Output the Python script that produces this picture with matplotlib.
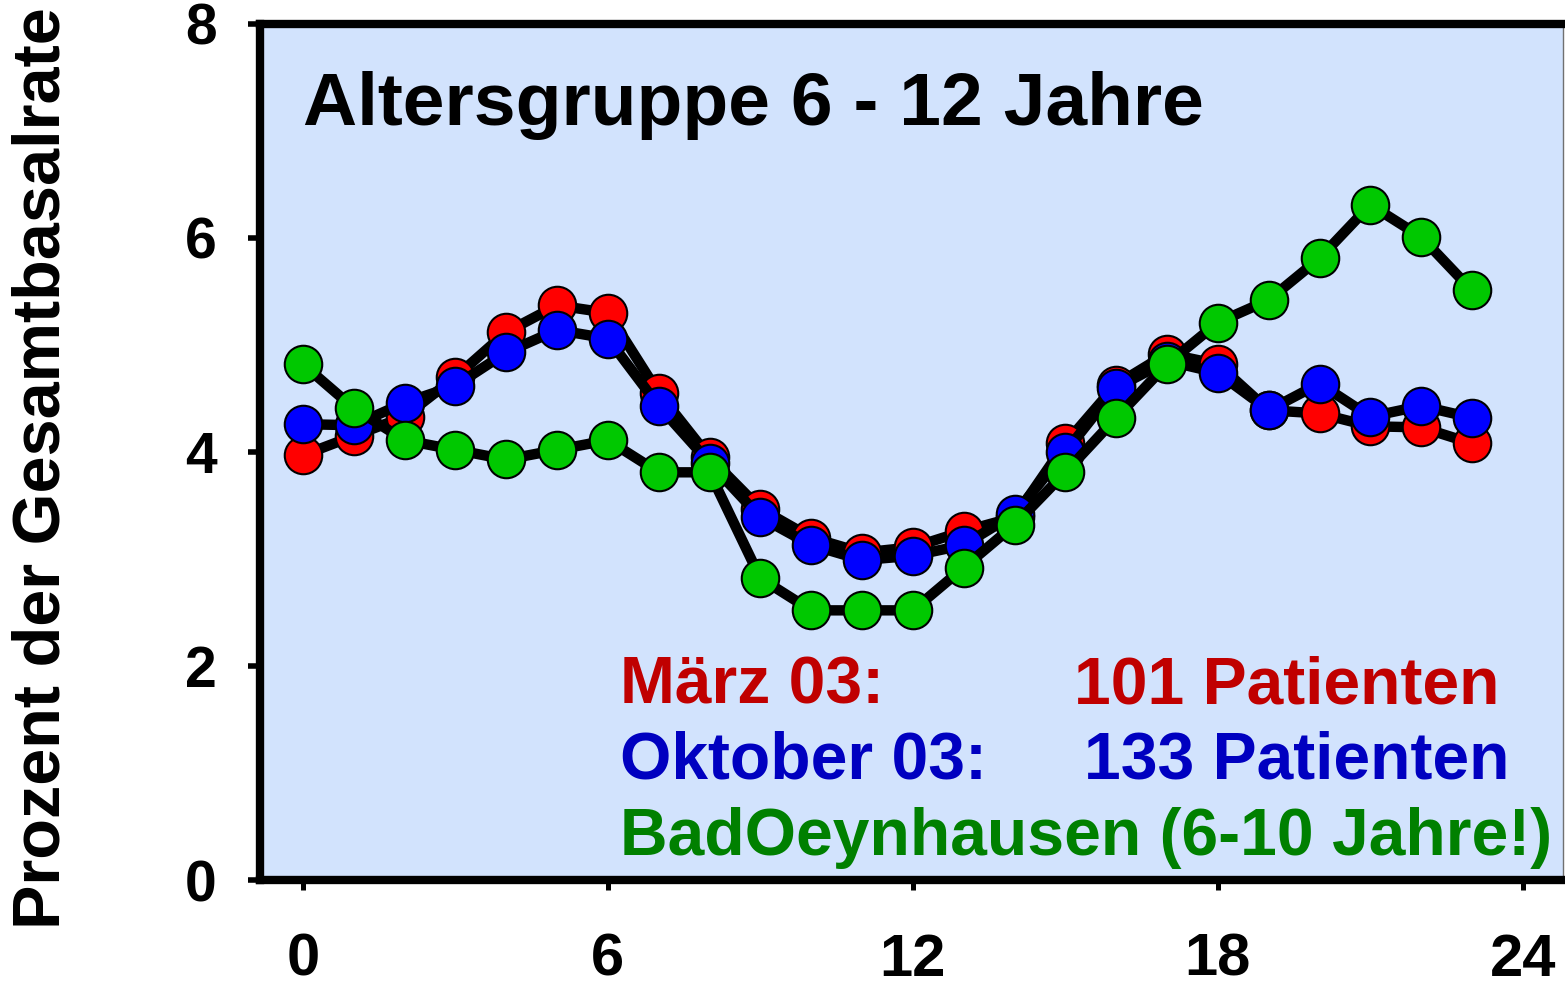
import numpy as np
import matplotlib
matplotlib.use("Agg")
import matplotlib.pyplot as plt

plt.rcParams['font.family'] = ['Liberation Sans', 'DejaVu Sans']
plt.rcParams['font.weight'] = 'bold'

####Data####
hours = list(range(24))
maerz = [3.97, 4.15, 4.33, 4.70, 5.12, 5.37, 5.30, 4.55, 3.95, 3.47, 3.20, 3.06,
         3.11, 3.26, 3.39, 4.08, 4.63, 4.92, 4.82, 4.39, 4.36, 4.24, 4.23, 4.08]
oktober = [4.26, 4.25, 4.46, 4.62, 4.93, 5.14, 5.06, 4.43, 3.90, 3.39, 3.13, 2.99,
           3.03, 3.13, 3.42, 4.00, 4.60, 4.85, 4.74, 4.39, 4.64, 4.33, 4.43, 4.32]
bad_oeyn = [4.82, 4.41, 4.11, 4.02, 3.93, 4.02, 4.11, 3.81, 3.81, 2.82, 2.52, 2.52,
            2.52, 2.92, 3.32, 3.81, 4.32, 4.82, 5.21, 5.42, 5.81, 6.31, 6.01, 5.51]

series = [
    (maerz, '#FF0000', 'März 03:', '101 Patienten', '#C00000'),
    (oktober, '#0000FF', 'Oktober 03:', '133 Patienten', '#0000C0'),
    (bad_oeyn, '#00C800', 'BadOeynhausen (6-10 Jahre!)', '', '#008000'),
]
xticks = [0, 6, 12, 18, 24]
yticks = [0, 2, 4, 6, 8]

fig = plt.figure(figsize=(15.65, 9.9), dpi=100)
ax = fig.add_axes([0.1661, 0.1111, 0.8326, 0.8647])
ax.set_facecolor('#D2E3FD')

for vals, col, _, _, _ in series:
    ax.plot(hours, vals, color='black', linewidth=7.5, marker='o',
            markersize=27, markerfacecolor=col, markeredgecolor='black',
            markeredgewidth=1.5, solid_joinstyle='round')

ax.set_xlim(-0.846, 24.79)
ax.set_ylim(0, 8)
ax.set_xticks(xticks)
ax.set_yticks(yticks)
ax.tick_params(axis='y', direction='out', length=9, width=4, pad=22, labelsize=41)
ax.tick_params(axis='x', direction='out', length=7, width=3.6, pad=31, labelsize=43)

for side in ['left', 'top', 'bottom']:
    ax.spines[side].set_linewidth(6)
    ax.spines[side].set_color('black')
ax.spines['right'].set_linewidth(1)
ax.spines['right'].set_color('#707070')

# title inside plot
ax.text(0.0, 7.056, 'Altersgruppe 6 - 12 Jahre', fontsize=54, fontweight='bold',
        color='black', ha='left', va='baseline')

# legend written as coloured text
ybase = [1.654, 0.944, 0.234]
xnum = [15.17, 15.36, 0]
for (vals, col, lab, num, tcol), yb, xn in zip(series, ybase, xnum):
    ax.text(6.24, yb, lab, fontsize=47.5, fontweight='bold', color=tcol,
            ha='left', va='baseline')
    if num:
        ax.text(xn, yb, num, fontsize=47.5, fontweight='bold', color=tcol,
                ha='left', va='baseline')

fig.text(43 / 1565, 1 - 468 / 990, 'Prozent der Gesamtbasalrate', rotation=90,
         fontsize=48, fontweight='bold', ha='center', va='center')

plt.savefig('out.png', dpi=100)
